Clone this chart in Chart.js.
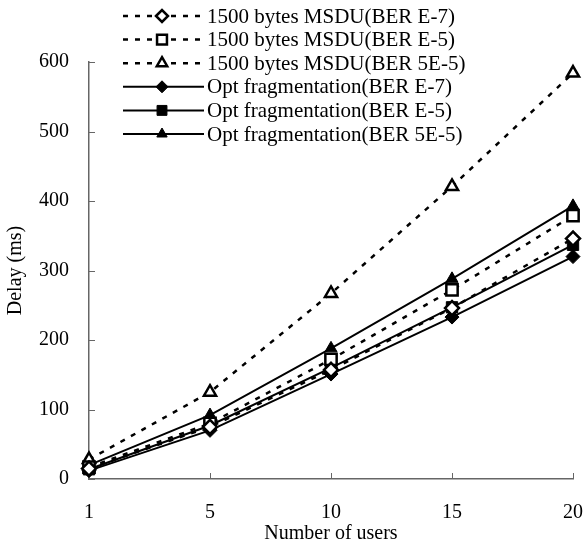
<!DOCTYPE html>
<html>
<head>
<meta charset="utf-8">
<script src="https://cdn.jsdelivr.net/npm/chart.js@4"></script>
<style>
  html, body { margin: 0; padding: 0; background: #fff; }
  #wrap { width: 584px; height: 546px; }
</style>
</head>
<body>
<div id="wrap"><canvas id="delayChart"></canvas></div>
<script>
// data
const users = ['1', '5', '10', '15', '20'];
const msduE7 = [15, 75, 157, 246, 346];
const msduE5 = [17, 80, 172, 272, 379];
const msdu5E5 = [28, 125, 267, 421, 584];
const optE7 = [12, 70, 151, 233, 320];
const optE5 = [14, 77, 160, 247, 337];
const opt5E5 = [20, 92, 188, 288, 393];
const seriesNames = [
    '1500 bytes MSDU(BER E-7)',
    '1500 bytes MSDU(BER E-5)',
    '1500 bytes MSDU(BER 5E-5)',
    'Opt fragmentation(BER E-7)',
    'Opt fragmentation(BER E-5)',
    'Opt fragmentation(BER 5E-5)'
];

const FONT = 'Liberation Serif';
Chart.defaults.font.family = FONT;
Chart.defaults.font.size = 20;
Chart.defaults.color = '#000';

function line(label, data, dashed, shape, open) {
    return {
        label: label,
        data: data,
        borderColor: '#000',
        borderWidth: dashed ? 2.5 : 2,
        borderDash: dashed ? [5, 7] : [],
        pointStyle: shape,
        pointRadius: shape === 'rect' ? 8 : 7,
        pointBackgroundColor: open ? '#fff' : '#000',
        pointBorderColor: '#000',
        pointBorderWidth: open ? 2.5 : 1,
        fill: false,
        tension: 0
    };
}

// legend drawn inside the plot, like the original
const innerLegend = {
    id: 'innerLegend',
    afterDraw(chart) {
        const c = chart.ctx;
        const x0 = 123, x1 = 204, mx = 162, tx = 207;
        chart.data.datasets.forEach((ds, i) => {
            const y = 16 + i * 23.6;
            c.save();
            c.strokeStyle = '#000';
            c.lineWidth = ds.borderWidth;
            c.setLineDash(ds.borderDash);
            c.beginPath();
            c.moveTo(x0, y);
            c.lineTo(x1, y);
            c.stroke();
            c.setLineDash([]);
            c.fillStyle = ds.pointBackgroundColor;
            c.lineWidth = ds.pointBorderWidth;
            Chart.helpers.drawPoint(c, {
                pointStyle: ds.pointStyle,
                radius: ds.pointRadius - 1,
                borderWidth: ds.pointBorderWidth
            }, mx, y);
            c.fillStyle = '#000';
            c.font = '21px "' + FONT + '"';
            c.textBaseline = 'middle';
            c.textAlign = 'left';
            c.fillText(ds.label, tx, y + 1);
            c.restore();
        });
    }
};

// ticks pointing into the plot
const innerTicks = {
    id: 'innerTicks',
    afterDraw(chart) {
        const c = chart.ctx;
        const xs = chart.scales.x, ys = chart.scales.y;
        const a = chart.chartArea;
        c.save();
        c.strokeStyle = '#666';
        c.lineWidth = 1;
        c.beginPath();
        ys.ticks.forEach(t => {
            const py = Math.round(ys.getPixelForValue(t.value)) + 0.5;
            c.moveTo(a.left, py);
            c.lineTo(a.left + 6, py);
        });
        users.forEach((u, i) => {
            if (i === 0) return;
            const px = Math.round(xs.getPixelForValue(i)) + 0.5;
            c.moveTo(px, a.bottom);
            c.lineTo(px, a.bottom - 6);
        });
        c.stroke();
        c.restore();
    }
};

const ctx = document.getElementById('delayChart');
new Chart(ctx, {
    type: 'line',
    data: {
        labels: users,
        datasets: [
            line(seriesNames[0], msduE7, true, 'rectRot', true),
            line(seriesNames[1], msduE5, true, 'rect', true),
            line(seriesNames[2], msdu5E5, true, 'triangle', true),
            line(seriesNames[3], optE7, false, 'rectRot', false),
            line(seriesNames[4], optE5, false, 'rect', false),
            line(seriesNames[5], opt5E5, false, 'triangle', false)
        ]
    },
    options: {
        responsive: true,
        maintainAspectRatio: false,
        animation: false,
        layout: { padding: { top: 62, right: 0, left: 0, bottom: 0 } },
        plugins: {
            legend: { display: false },
            tooltip: { enabled: false }
        },
        scales: {
            x: {
                offset: false,
                grid: { display: false },
                border: { display: true, color: '#666', width: 1.5 },
                ticks: { padding: 14, maxRotation: 0 },
                title: { display: true, text: 'Number of users', padding: { top: 0, bottom: 0 } },
                afterFit(s) { s.height = 67; s.paddingRight = 11; s.paddingLeft = 0; }
            },
            y: {
                min: 0,
                max: 600,
                grid: { display: false },
                border: { display: true, color: '#666', width: 1.5 },
                ticks: { stepSize: 100, padding: 12 },
                title: { display: true, text: 'Delay (ms)', padding: { top: 4, bottom: 0 } },
                afterFit(s) { s.width = 89; }
            }
        }
    },
    plugins: [innerTicks, innerLegend]
});
</script>
</body>
</html>
